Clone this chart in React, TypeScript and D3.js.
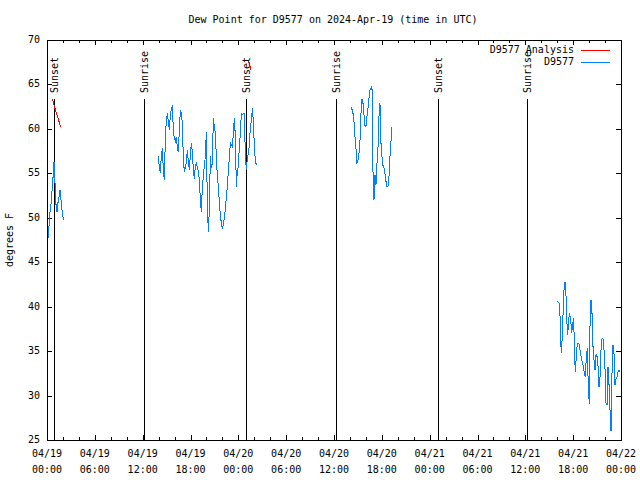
import React from 'react';
import * as d3 from 'd3';

const W = 640;
const H = 480;
const PL = 47, PR = 621, PT = 40, PB = 440;

const titleText = 'Dew Point for D9577 on 2024-Apr-19 (time in UTC)';
const yLabel = 'degrees F';

const xMajorHours = [0, 6, 12, 18, 24, 30, 36, 42, 48, 54, 60, 66, 72];
const xTickDates = ['04/19', '04/19', '04/19', '04/19', '04/20', '04/20', '04/20', '04/20', '04/21', '04/21', '04/21', '04/21', '04/22'];
const xTickTimes = ['00:00', '06:00', '12:00', '18:00', '00:00', '06:00', '12:00', '18:00', '00:00', '06:00', '12:00', '18:00', '00:00'];
const yTicks = [25, 30, 35, 40, 45, 50, 55, 60, 65, 70];

const sunHours = [0.88, 12.2, 24.98, 36.25, 49.1, 60.25];
const sunLabels = ['Sunset', 'Sunrise', 'Sunset', 'Sunrise', 'Sunset', 'Sunrise'];

// observation series (sampled every ~7.5 minutes)
const obsStep = 0.1254;
const seg1Start = 0.125;
const seg1Values = [47.7, 49.0, 50.6, 51.5, 53.0, 54.5, 56.3, 54.0, 51.5, 50.6, 51.7, 52.3, 53.1, 52.0, 50.9, 50.1, 49.8];
const seg2Start = 13.97;
const seg2Values = [56.9, 55.6, 55.0, 57.1, 57.8, 55.2, 54.3, 59.1, 61.0, 61.75, 60.8, 59.9, 61.6, 62.3, 62.5, 59.9, 58.9, 58.6, 59.1, 57.8, 57.4, 59.9, 62.1, 61.75, 60.6, 56.5, 55.2, 55.6, 56.3, 57.6, 56.3, 55.4, 57.1, 58.4, 57.4, 55.4, 54.4, 55.9, 56.1, 55.75, 55.2, 54.25, 52.0, 50.7, 53.5, 54.6, 55.9, 56.9, 59.7, 51.25, 48.4, 50.9, 56.9, 55.6, 56.1, 61.2, 60.25, 59.5, 56.9, 54.6, 53.5, 51.8, 50.3, 49.4, 48.7, 49.2, 50.1, 50.9, 52.4, 53.5, 55.4, 56.7, 58.4, 58.2, 58.0, 59.5, 61.2, 59.1, 53.5, 55.4, 55.75, 58.0, 59.5, 61.75, 61.6, 61.75, 61.75, 56.9, 55.4, 56.7, 57.25, 58.2, 60.25, 60.8, 62.3, 60.8, 58.0, 56.5, 55.9];
const seg3Start = 38.13;
const seg3Values = [62.4, 62.2, 61.75, 60.8, 59.1, 57.8, 56.1, 56.5, 57.25, 58.6, 61.75, 63.4, 62.9, 61.6, 60.4, 60.25, 61.4, 62.3, 63.4, 64.4, 64.6, 64.75, 55.2, 52.0, 54.8, 53.7, 56.1, 57.8, 61.4, 62.9, 58.4, 56.9, 55.9, 55.6, 55.0, 54.1, 53.5, 53.5, 54.6, 56.9, 58.6, 60.2];
const seg4Hours = [64.01, 64.14, 64.27, 64.35, 64.43, 64.52, 64.60, 64.68, 64.77, 64.85, 64.98, 65.10, 65.23, 65.31, 65.44, 65.56, 65.69, 65.81, 65.94, 66.06, 66.19, 66.27, 66.40, 66.52, 66.65, 66.77, 66.90, 67.02, 67.15, 67.28, 67.40, 67.53, 67.65, 67.78, 67.90, 68.03, 68.11, 68.24, 68.36, 68.49, 68.61, 68.74, 68.87, 68.99, 69.12, 69.24, 69.37, 69.49, 69.62, 69.74, 69.87, 70.00, 70.12, 70.25, 70.37, 70.50, 70.62, 70.75, 70.88, 71.00, 71.13, 71.25, 71.38, 71.50, 71.63, 71.75, 71.88];
const seg4Values = [40.55, 40.5, 40.4, 38.9, 36.25, 34.75, 36.1, 38.1, 40.0, 41.9, 42.8, 41.3, 38.1, 36.8, 38.7, 39.25, 38.5, 37.0, 38.1, 38.7, 34.2, 32.7, 34.4, 35.9, 35.9, 35.7, 34.9, 34.2, 33.8, 33.25, 32.5, 32.1, 34.4, 35.3, 30.8, 29.1, 37.7, 40.75, 39.4, 35.5, 34.0, 32.9, 34.6, 34.4, 33.25, 31.0, 32.1, 35.1, 36.4, 36.4, 35.1, 32.9, 29.1, 29.0, 33.25, 31.2, 28.4, 26.0, 32.9, 35.7, 34.6, 31.2, 31.9, 32.1, 32.7, 32.9, 32.7];

// analysis series
const an1Hours = [0.66, 1.0, 1.72];
const an1Values = [63.4, 62.3, 60.2];
const an2Hours = [25.3, 25.6];
const an2Values = [67.6, 66.6];

const seriesNames = ['D9577 Analysis', 'D9577'];
const seriesColors = ['#ff0000', '#0080ff'];

type P = [number, number];

function regular(start: number, vals: number[]): P[] {
  return vals.map((v, i) => [start + i * obsStep, v] as P);
}
function zipHV(hs: number[], vs: number[]): P[] {
  return hs.map((h, i) => [h, vs[i]] as P);
}

export default function App() {
  const x = d3.scaleLinear().domain([0, 72]).range([PL, PR]);
  const y = d3.scaleLinear().domain([25, 70]).range([PB, PT]);
  const line = d3.line<P>().x(d => x(d[0])).y(d => y(d[1]));

  const obsSegs: P[][] = [
    regular(seg1Start, seg1Values),
    regular(seg2Start, seg2Values),
    regular(seg3Start, seg3Values),
    zipHV(seg4Hours, seg4Values),
  ];
  const anSegs: P[][] = [zipHV(an1Hours, an1Values), zipHV(an2Hours, an2Values)];

  const minorHours = d3.range(0, 73, 2).filter(h => h % 6 !== 0);
  const font = '"DejaVu Sans Mono", monospace';
  const px = (v: number) => Math.round(v) + 0.5;

  return (
    <svg width={W} height={H} style={{ position: 'absolute', left: 0, top: 0, background: '#fff' }}
      fontFamily={font} fontSize={10}>
      <rect x={0} y={0} width={W} height={H} fill="#fff" />
      <text x={333} y={20} textAnchor="middle" dominantBaseline="middle">{titleText}</text>
      <text transform="translate(10,240) rotate(-90)" textAnchor="middle" dominantBaseline="middle">{yLabel}</text>

      <g shapeRendering="crispEdges" stroke="#000" strokeWidth={1}>
        {yTicks.map(t => (
          <g key={'y' + t}>
            <line x1={PL} x2={PL + 5} y1={px(y(t))} y2={px(y(t))} />
            <line x1={PR - 5} x2={PR} y1={px(y(t))} y2={px(y(t))} />
          </g>
        ))}
        {xMajorHours.map(h => (
          <g key={'xm' + h}>
            <line x1={px(x(h))} x2={px(x(h))} y1={PB} y2={PB - 5} />
            <line x1={px(x(h))} x2={px(x(h))} y1={PT} y2={PT + 5} />
          </g>
        ))}
        {minorHours.map(h => (
          <g key={'xn' + h}>
            <line x1={px(x(h))} x2={px(x(h))} y1={PB} y2={PB - 3} />
            <line x1={px(x(h))} x2={px(x(h))} y1={PT} y2={PT + 3} />
          </g>
        ))}
        {sunHours.map((h, i) => (
          <line key={'s' + i} x1={px(x(h))} x2={px(x(h))} y1={99} y2={PB} />
        ))}
      </g>

      {yTicks.map(t => (
        <text key={'yl' + t} x={40} y={y(t)} textAnchor="end" dominantBaseline="middle">{t}</text>
      ))}
      {xMajorHours.map((h, i) => (
        <g key={'xl' + h}>
          <text x={x(h)} y={454} textAnchor="middle" dominantBaseline="middle">{xTickDates[i]}</text>
          <text x={x(h)} y={470} textAnchor="middle" dominantBaseline="middle">{xTickTimes[i]}</text>
        </g>
      ))}
      {sunHours.map((h, i) => (
        <text key={'sl' + i} transform={`translate(${x(h) + 1},93) rotate(-90)`} textAnchor="start" dominantBaseline="middle">{sunLabels[i]}</text>
      ))}

      <g fill="none" strokeWidth={1} shapeRendering="crispEdges">
        {obsSegs.map((s, i) => <path key={'o' + i} d={line(s) || ''} stroke={seriesColors[1]} />)}
        {anSegs.map((s, i) => <path key={'a' + i} d={line(s) || ''} stroke={seriesColors[0]} />)}
      </g>

      <g>
        <text x={574} y={50} textAnchor="end" dominantBaseline="middle">{seriesNames[0]}</text>
        <line x1={581} x2={610} y1={50.5} y2={50.5} stroke={seriesColors[0]} shapeRendering="crispEdges" />
        <text x={574} y={62} textAnchor="end" dominantBaseline="middle">{seriesNames[1]}</text>
        <line x1={581} x2={610} y1={62.5} y2={62.5} stroke={seriesColors[1]} shapeRendering="crispEdges" />
      </g>

      <rect x={PL + 0.5} y={PT + 0.5} width={PR - PL} height={PB - PT} fill="none" stroke="#000" shapeRendering="crispEdges" />
    </svg>
  );
}
